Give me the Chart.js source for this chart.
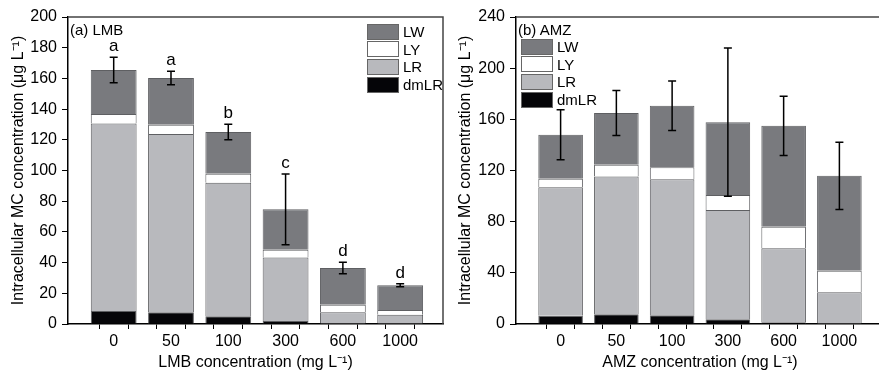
<!DOCTYPE html>
<html>
<head>
<meta charset="utf-8">
<script src="https://cdn.jsdelivr.net/npm/chart.js@4"></script>
<style>
    html, body { margin: 0; padding: 0; background: #fff; width: 879px; height: 373px; overflow: hidden; }
    .panel { position: absolute; top: 0; }
    .legend { position: absolute; font: 15px "Liberation Sans", Arial, sans-serif; color: #000; }
    .legend-row { display: flex; align-items: center; height: 17.6px; }
    .legend-box { width: 30px; height: 14px; border: 1px solid #666; margin-right: 4px; }
    .panel-label { position: absolute; font: 15px "Liberation Sans", Arial, sans-serif; color: #000; }
</style>
</head>
<body>
<canvas id="chartLMB" class="panel" width="450" height="373" style="left:0px"></canvas>
<canvas id="chartAMZ" class="panel" width="450" height="373" style="left:440px"></canvas>
<div class="panel-label" style="left:70px; top:21px">(a) LMB</div>
<div class="panel-label" style="left:518px; top:21px">(b) AMZ</div>
<div id="legendLMB" class="legend" style="left:367px; top:23px"></div>
<div id="legendAMZ" class="legend" style="left:521px; top:38px"></div>

<script>
const categories = ['0', '50', '100', '300', '600', '1000'];
const seriesNames = ['dmLR', 'LR', 'LY', 'LW'];
const seriesColors = ['#050508', '#b8b9bd', '#ffffff', '#797a7e'];

// (a) LMB, stacked parts in ug/L
const lmbDmLR = [8.5, 7.6, 5.0, 2.0, 0.3, 0.3];
const lmbLR = [122.2, 116.2, 87.1, 41.4, 7.3, 5.8];
const lmbLY = [6.1, 6.0, 5.8, 5.0, 5.0, 3.0];
const lmbLW = [28.7, 30.5, 27.2, 26.3, 23.9, 16.1];
const lmbErr = [8.3, 4.4, 5.0, 23.0, 3.7, 1.0];
const lmbLetters = ['a', 'a', 'b', 'c', 'd', 'd'];
const lmbTicks = [0, 20, 40, 60, 80, 100, 120, 140, 160, 180, 200];

// (b) AMZ
const amzDmLR = [6.5, 7.6, 6.8, 3.7, 1.3, 0.3];
const amzLR = [100.5, 107.7, 106.4, 85.5, 57.9, 24.5];
const amzLY = [6.5, 9.1, 9.4, 11.7, 16.9, 16.9];
const amzLW = [34.4, 40.5, 48.0, 56.9, 78.8, 74.1];
const amzErr = [19.5, 17.6, 19.4, 57.9, 23.2, 26.3];
const amzLetters = ['', '', '', '', '', ''];
const amzTicks = [0, 40, 80, 120, 160, 200, 240];

const FONT = '"Liberation Sans", Arial, sans-serif';

// error bars + significance letters on top of each stack
const errorBarPlugin = {
    id: 'errorBars',
    afterDatasetsDraw(chart, args, opts) {
        const ctx = chart.ctx;
        const yScale = chart.scales.y;
        const topMeta = chart.getDatasetMeta(chart.data.datasets.length - 1);
        ctx.save();
        ctx.strokeStyle = '#000';
        ctx.lineWidth = 1.5;
        opts.err.forEach((e, i) => {
            let total = 0;
            chart.data.datasets.forEach(ds => { total += ds.data[i].y; });
            const x = topMeta.data[i].x;
            const yTop = yScale.getPixelForValue(total + e);
            const yBot = yScale.getPixelForValue(total - e);
            ctx.beginPath();
            ctx.moveTo(x, yTop); ctx.lineTo(x, yBot);
            ctx.moveTo(x - 4, yTop); ctx.lineTo(x + 4, yTop);
            ctx.moveTo(x - 4, yBot); ctx.lineTo(x + 4, yBot);
            ctx.stroke();
            if (opts.letters[i]) {
                ctx.fillStyle = '#000';
                ctx.font = '17px ' + FONT;
                ctx.textAlign = 'center';
                ctx.textBaseline = 'alphabetic';
                ctx.fillText(opts.letters[i], x, yTop - 6);
            }
        });
        ctx.restore();
    }
};

// top and right border of the frame
const framePlugin = {
    id: 'frame',
    afterDraw(chart) {
        const { ctx, chartArea } = chart;
        ctx.save();
        ctx.strokeStyle = '#444';
        ctx.lineWidth = 1.5;
        ctx.beginPath();
        ctx.moveTo(chartArea.left, chartArea.top);
        ctx.lineTo(chartArea.right, chartArea.top);
        ctx.lineTo(chartArea.right, chartArea.bottom);
        ctx.stroke();
        ctx.restore();
    }
};

function makeChart(canvasId, parts, err, letters, yTicks, xTitle, opt) {
    const datasets = parts.map((vals, k) => ({
        label: seriesNames[k],
        data: vals.map((v, i) => ({ x: i, y: v })),
        backgroundColor: seriesColors[k],
        borderColor: '#5e5f62',
        borderWidth: 1,
        categoryPercentage: 0.8,
        // minor ticks sit halfway between categories, so the ruler step is half a category
        barPercentage: 2
    }));

    return new Chart(document.getElementById(canvasId).getContext('2d'), {
        type: 'bar',
        data: { datasets },
        plugins: [errorBarPlugin, framePlugin],
        options: {
            responsive: false,
            animation: false,
            devicePixelRatio: 1,
            layout: { padding: { top: 17, right: opt.padRight, left: 0, bottom: 0 } },
            plugins: {
                legend: { display: false },
                tooltip: { enabled: false },
                errorBars: { err, letters }
            },
            scales: {
                x: {
                    type: 'linear',
                    stacked: true,
                    min: -0.5,
                    max: opt.xMax,
                    afterBuildTicks: s => {
                        const t = [];
                        categories.forEach((c, i) => {
                            t.push({ value: i });
                            if (i < categories.length - 1) t.push({ value: i + 0.5 });
                        });
                        s.ticks = t;
                    },
                    afterFit: s => { s.height = 49; },
                    grid: { drawOnChartArea: false, drawTicks: true, tickLength: 5, color: '#000' },
                    border: { display: true, color: '#000', width: 1.5 },
                    ticks: {
                        autoSkip: false,
                        maxRotation: 0,
                        padding: 3,
                        color: '#000',
                        font: { family: FONT, size: 16 },
                        callback: v => Number.isInteger(v) ? categories[v] : ''
                    },
                    title: {
                        display: true,
                        text: xTitle,
                        color: '#000',
                        font: { family: FONT, size: 16 },
                        padding: { top: 0, bottom: 1 }
                    }
                },
                y: {
                    stacked: true,
                    min: 0,
                    max: yTicks[yTicks.length - 1],
                    afterBuildTicks: s => { s.ticks = yTicks.map(v => ({ value: v })); },
                    afterFit: s => { s.width = opt.yWidth; },
                    grid: { drawOnChartArea: false, drawTicks: true, tickLength: 6, color: '#000' },
                    border: { display: true, color: '#000', width: 1.5 },
                    ticks: {
                        padding: 5,
                        color: '#000',
                        font: { family: FONT, size: 16 }
                    },
                    title: {
                        display: true,
                        text: 'Intracellular MC concentration (\u03bcg L\u207b\u00b9)',
                        color: '#000',
                        font: { family: FONT, size: 16 },
                        padding: { top: opt.yTitlePad, bottom: 0 }
                    }
                }
            }
        }
    });
}

function buildLegend(elId) {
    const el = document.getElementById(elId);
    // top of the legend is the top of the stack
    for (let k = seriesNames.length - 1; k >= 0; k--) {
        const row = document.createElement('div');
        row.className = 'legend-row';
        row.innerHTML = `<span class="legend-box" style="background:${seriesColors[k]}"></span><span>${seriesNames[k]}</span>`;
        el.appendChild(row);
    }
}

makeChart('chartLMB', [lmbDmLR, lmbLR, lmbLY, lmbLW], lmbErr, lmbLetters, lmbTicks,
    'LMB concentration (mg L\u207b\u00b9)', { padRight: 7, yWidth: 68, xMax: 5.45, yTitlePad: 9 });
makeChart('chartAMZ', [amzDmLR, amzLR, amzLY, amzLW], amzErr, amzLetters, amzTicks,
    'AMZ concentration (mg L\u207b\u00b9)', { padRight: 6, yWidth: 76, xMax: 5.5, yTitlePad: 16 });

buildLegend('legendLMB');
buildLegend('legendAMZ');
</script>
</body>
</html>
